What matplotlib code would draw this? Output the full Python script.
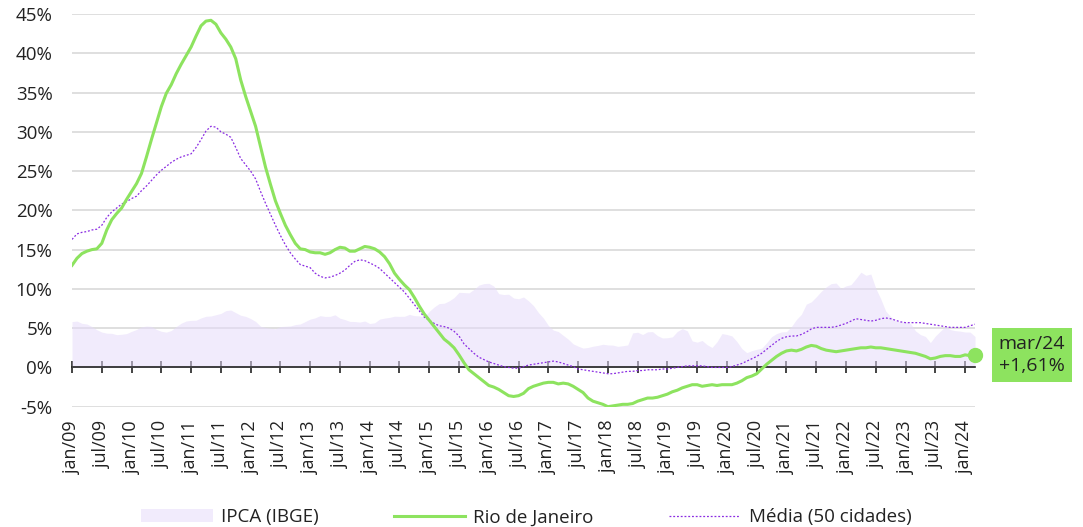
import matplotlib.pyplot as plt
import numpy as np

plt.rcParams['font.family'] = ['Open Sans', 'DejaVu Sans']

# variação acumulada em 12 meses (%), jan/09 a mar/24
ipca = [
    5.84, 5.90, 5.61, 5.53, 5.20, 4.80, 4.50, 4.36, 4.34, 4.17, 4.22, 4.31,
    4.59, 4.83, 5.17, 5.26, 5.22, 4.84, 4.60, 4.49, 4.70, 5.20, 5.63, 5.91,
    5.99, 6.01, 6.30, 6.51, 6.55, 6.71, 6.87, 7.23, 7.31, 6.97, 6.64, 6.50,
    6.22, 5.85, 5.24, 5.10, 4.99, 4.92, 5.20, 5.24, 5.28, 5.45, 5.53, 5.84,
    6.15, 6.31, 6.59, 6.49, 6.50, 6.70, 6.27, 6.09, 5.86, 5.84, 5.77, 5.91,
    5.59, 5.68, 6.15, 6.28, 6.37, 6.52, 6.50, 6.51, 6.75, 6.59, 6.56, 6.41,
    7.14, 7.70, 8.13, 8.17, 8.47, 8.89, 9.56, 9.53, 9.49, 9.93, 10.48, 10.67,
    10.71, 10.36, 9.39, 9.28, 9.32, 8.84, 8.74, 8.97, 8.48, 7.87, 6.99, 6.29,
    5.35, 4.76, 4.57, 4.08, 3.60, 3.00, 2.71, 2.46, 2.54, 2.70, 2.80, 2.95,
    2.86, 2.84, 2.68, 2.76, 2.86, 4.39, 4.48, 4.19, 4.53, 4.56, 4.05, 3.75,
    3.78, 3.89, 4.58, 4.94, 4.66, 3.37, 3.22, 3.43, 2.89, 2.54, 3.27, 4.31,
    4.19, 4.01, 3.30, 2.40, 1.88, 2.13, 2.31, 2.44, 3.14, 3.92, 4.31, 4.52,
    4.56, 5.20, 6.10, 6.76, 8.06, 8.35, 8.99, 9.68, 10.25, 10.67, 10.74, 10.06,
    10.38, 10.54, 11.30, 12.13, 11.73, 11.89, 10.07, 8.73, 7.17, 6.47, 5.90, 5.79,
    5.77, 5.60, 4.65, 4.18, 3.94, 3.16, 3.99, 4.61, 5.19, 4.82, 4.68, 4.62,
    4.51, 4.50, 3.93,
]

rio = [
    13.0, 13.9, 14.5, 14.8, 15.0, 15.1, 15.8, 17.5, 18.8, 19.6, 20.3, 21.4,
    22.4, 23.4, 24.7, 26.8, 29.0, 31.1, 33.2, 34.9, 36.0, 37.4, 38.6, 39.7,
    40.8, 42.2, 43.5, 44.1, 44.2, 43.7, 42.6, 41.8, 40.8, 39.3, 36.6, 34.5,
    32.6, 30.7, 28.1, 25.5, 23.3, 21.2, 19.6, 18.1, 16.9, 15.8, 15.1, 15.0,
    14.7, 14.6, 14.6, 14.4, 14.6, 15.0, 15.3, 15.2, 14.8, 14.8, 15.1, 15.4,
    15.3, 15.1, 14.7, 14.1, 13.2, 12.0, 11.2, 10.5, 9.9, 8.9, 7.8, 6.8,
    6.0, 5.2, 4.4, 3.6, 3.1, 2.5, 1.6, 0.6, -0.3, -0.8, -1.3, -1.8,
    -2.3, -2.5, -2.8, -3.2, -3.6, -3.7, -3.6, -3.3, -2.7, -2.4, -2.2, -2.0,
    -1.9, -1.9, -2.1, -2.0, -2.1, -2.4, -2.8, -3.2, -3.9, -4.3, -4.5, -4.7,
    -5.0, -4.9, -4.8, -4.7, -4.7, -4.6, -4.3, -4.1, -3.9, -3.9, -3.8, -3.6,
    -3.4, -3.1, -2.9, -2.6, -2.4, -2.2, -2.2, -2.4, -2.3, -2.2, -2.3, -2.2,
    -2.2, -2.2, -2.0, -1.7, -1.3, -1.1, -0.8, -0.2, 0.4, 0.9, 1.4, 1.8,
    2.1, 2.2, 2.1, 2.3, 2.6, 2.8, 2.7, 2.4, 2.2, 2.1, 2.0, 2.1,
    2.2, 2.3, 2.4, 2.5, 2.5, 2.6, 2.5, 2.5, 2.4, 2.3, 2.2, 2.1,
    2.0, 1.9, 1.8, 1.6, 1.4, 1.1, 1.2, 1.4, 1.5, 1.5, 1.4, 1.4,
    1.6, 1.5, 1.61,
]

media = [
    16.3, 17.0, 17.2, 17.3, 17.5, 17.6, 18.1, 19.1, 19.8, 20.3, 20.8, 21.1,
    21.5, 21.8, 22.5, 23.1, 23.8, 24.5, 25.1, 25.6, 26.1, 26.5, 26.8, 27.0,
    27.2, 28.0, 29.0, 30.1, 30.7, 30.6, 30.0, 29.7, 29.3, 28.0, 26.6, 25.8,
    25.0, 24.0, 22.4, 20.9, 19.5, 18.1, 16.8, 15.6, 14.6, 13.8, 13.1, 12.9,
    12.7, 12.0, 11.6, 11.4, 11.5, 11.7, 12.0, 12.4, 13.0, 13.5, 13.7, 13.6,
    13.3, 13.0, 12.6, 12.0, 11.4, 10.8, 10.2, 9.6, 8.8, 8.0, 7.2, 6.4,
    6.0, 5.6, 5.3, 5.2, 5.0, 4.6, 4.0, 3.0, 2.4, 1.8, 1.3, 1.0,
    0.7, 0.5, 0.3, 0.1, 0.0, -0.1, -0.1, 0.1, 0.3, 0.4, 0.5, 0.6,
    0.7, 0.8, 0.7, 0.5, 0.3, 0.1, -0.2, -0.3, -0.4, -0.5, -0.6, -0.7,
    -0.8, -0.8, -0.7, -0.6, -0.5, -0.5, -0.4, -0.4, -0.3, -0.3, -0.3, -0.2,
    -0.2, -0.1, 0.0, 0.1, 0.2, 0.2, 0.2, 0.2, 0.1, 0.0, 0.0, 0.0,
    0.0, 0.1, 0.3, 0.5, 0.8, 1.1, 1.4, 1.8, 2.3, 2.8, 3.3, 3.7,
    3.9, 4.0, 4.0, 4.2, 4.5, 4.9, 5.1, 5.1, 5.1, 5.1, 5.2, 5.4,
    5.6, 5.9, 6.2, 6.1, 6.0, 5.9, 6.0, 6.2, 6.3, 6.2, 6.0, 5.8,
    5.7, 5.7, 5.7, 5.7, 5.6, 5.5, 5.4, 5.3, 5.2, 5.1, 5.1, 5.1,
    5.1, 5.3, 5.5,
]

years = ['09', '10', '11', '12', '13', '14', '15', '16',
         '17', '18', '19', '20', '21', '22', '23', '24']
tick_labels = []
for yy in years:
    tick_labels += [f'jan/{yy}', f'jul/{yy}']
tick_labels = tick_labels[:-1]

last_label = 'mar/24'

verde = '#8de35f'
roxo = '#8a2be2'
lilas = '#e6dbfa'
texto = '#222222'

x = np.arange(len(rio))

fig = plt.figure(figsize=(10.83, 5.27), dpi=100)
ax = fig.add_axes([0.0665, 0.2283, 0.8338, 0.7451])

ax.fill_between(x, 0, ipca, color=lilas, alpha=0.55, lw=0, zorder=1,
                label='IPCA (IBGE)')
ax.plot(x, rio, color=verde, lw=2.2, zorder=4, label='Rio de Janeiro')
ax.plot(x, media, color=roxo, lw=0.9, ls=(0, (1.5, 1.5)), zorder=3,
        label='Média (50 cidades)')
ax.plot(x[-1], rio[-1], 'o', color=verde, ms=10, zorder=5, clip_on=False)

ax.annotate(f'{last_label}\n+{rio[-1]:.2f}%'.replace('.', ','),
            xy=(x[-1], rio[-1]), xytext=(41, 0), textcoords='offset points',
            ha='center', va='center', fontsize=14, linespacing=1.25,
            color=texto, annotation_clip=False,
            bbox=dict(boxstyle='square,pad=0.36', fc=verde, ec='none'))

ax.set_xlim(0, len(rio) - 1)
ax.set_ylim(-5, 45)
ax.set_yticks(np.arange(-5, 46, 5))
ax.set_yticklabels([f'{v}%' for v in range(-5, 46, 5)])
ax.grid(axis='y', color='#dcdcdc', lw=1.3, zorder=0)
ax.set_axisbelow(True)
for s in ['top', 'right', 'left']:
    ax.spines[s].set_visible(False)
ax.tick_params(axis='y', length=0, pad=14, labelsize=13.5, colors=texto)

# eixo x passando pelo zero, com marcas semestrais
ax.spines['bottom'].set_position(('data', 0))
ax.spines['bottom'].set_color(texto)
ax.spines['bottom'].set_linewidth(1.2)
ax.spines['bottom'].set_zorder(2)
ticks = np.arange(0, len(rio), 6)
ax.set_xticks(ticks)
ax.set_xticklabels(tick_labels, rotation=90, fontsize=13, color=texto)
ax.tick_params(axis='x', direction='inout', length=9, width=1.2,
               color=texto, pad=34)

fig.legend(loc='lower center', bbox_to_anchor=(0.486, -0.031), ncol=3,
           frameon=False, fontsize=13.5, handlelength=3.8, handletextpad=0.45,
           columnspacing=4.0, labelcolor=texto)

fig.savefig('out.png', dpi=100)
